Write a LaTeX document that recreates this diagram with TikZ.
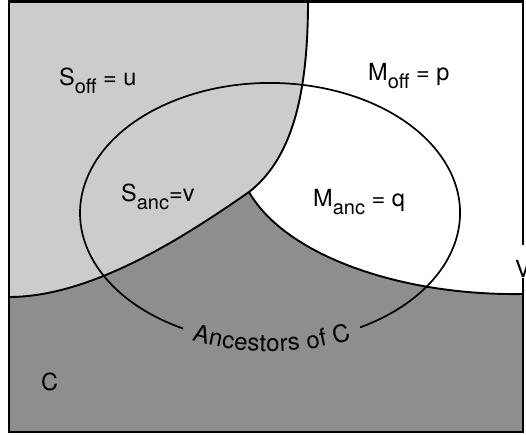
\documentclass[tikz,border=0pt]{standalone}
\usepackage{fontspec}
\setmainfont{TeX Gyre Heros}
\usetikzlibrary{decorations.text}
\definecolor{lightreg}{HTML}{CDCBCD}
\definecolor{darkreg}{HTML}{8F8D8F}
\newcommand{\lbsub}[1]{\raisebox{-8pt}{\fontsize{20}{20}\selectfont #1}}
\begin{document}
\begin{tikzpicture}[x=1pt,y=-1pt,
  lbl/.style={anchor=base west, inner sep=0pt, font=\fontsize{23.5}{27}\selectfont},
  bound/.style={line width=1.9pt},
  ellline/.style={line width=1.7pt},
  framebox/.style={line width=2.4pt}]
\useasboundingbox (0,0) rectangle (526,434);
\coordinate (TL) at (8.7,1.3);
\coordinate (TR) at (523,1.3);
\coordinate (BR) at (523,432);
\coordinate (J) at (249,192);
\coordinate (Ltop) at (308,1.3);
\coordinate (Lleft) at (8.7,297);
\coordinate (Dright) at (523,294);
\coordinate (EA) at (360.1,327.4);
\coordinate (EB) at (183.1,328.6);
% regions
\fill[darkreg] (TL) rectangle (BR);
\fill[white] (Ltop) -- (TR) -- (Dright) .. controls (400,296) and (285,255) .. (J)
  .. controls (290,160) and (308,100) .. (Ltop) -- cycle;
\fill[lightreg] (TL) -- (Ltop) .. controls (308,100) and (290,160) .. (J)
  .. controls (180,240) and (90,297) .. (Lleft) -- cycle;
% boundaries
\draw[bound] (Ltop) .. controls (308,100) and (290,160) .. (J)
  .. controls (180,240) and (90,297) .. (Lleft);
\draw[bound] (J) .. controls (285,255) and (400,296) .. (Dright);
% ellipse with gap
\draw[ellline] (EA) arc[start angle=61.7, end angle=-242.8, x radius=190, y radius=130];
\path[decorate, decoration={text along path,
  text={|\fontsize{24}{28}\selectfont|Ancestors of C}, text align=center, raise=-8.5pt}]
  (EB) arc[start angle=117.2, end angle=61.7, x radius=190, y radius=130];
% labels
\node[lbl] (soff) at (59,85) {S\lbsub{off} = u};
\node[lbl] (moff) at (368,80) {M\lbsub{off} = p};
\node[lbl] (sanc) at (121,201) {S\lbsub{anc}=v};
\node[lbl] (manc) at (313,206) {M\lbsub{anc} = q};
\node[lbl] (c) at (41,390) {C};
% frame
\draw[framebox] (TL) rectangle (BR);
\node[lbl, anchor=base, fill=white, text height=32pt, text depth=1pt] (v) at (523,277) {V};
\end{tikzpicture}
\end{document}
